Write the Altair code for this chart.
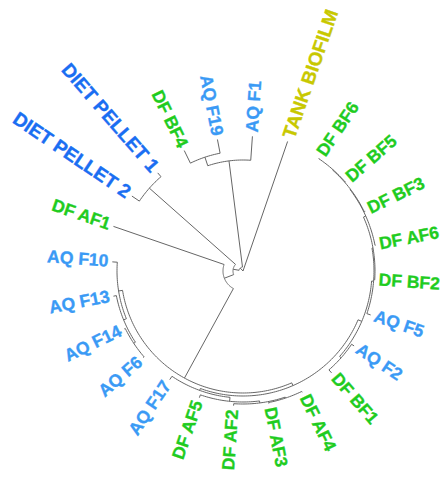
import math
import altair as alt
import pandas as pd

# ---- data: leaves in clockwise order, starting at the top-right ----
leaf_names = ["TANK BIOFILM", "DF BF6", "DF BF5", "DF BF3", "DF AF6", "DF BF2",
              "AQ F5", "AQ F2", "DF BF1", "DF AF4", "DF AF3", "DF AF2", "DF AF5",
              "AQ F17", "AQ F6", "AQ F14", "AQ F13", "AQ F10", "DF AF1",
              "DIET PELLET 2", "DIET PELLET 1", "DF BF4", "AQ F19", "AQ F1"]
leaf_groups = ["TANK", "DF", "DF", "DF", "DF", "DF",
               "AQ", "AQ", "DF", "DF", "DF", "DF", "DF",
               "AQ", "AQ", "AQ", "AQ", "AQ", "DF",
               "DIET", "DIET", "DF", "AQ", "AQ"]
leaf_tip_r = [137, 136, 136, 136, 135, 132,
              135, 134, 135, 135, 135, 135, 134,
              131, 132, 132, 132, 131, 137,
              134, 130, 134, 134, 135]

# internal nodes (children before parents): name, children, radius
node_names = ["A1", "A", "B",
              "G1c", "G1b", "G1",
              "G4c", "G4b", "G4", "W",
              "G6", "G7e", "G7d", "G7c", "G7b", "G7", "G5",
              "Z", "C", "N3", "N2", "N1", "root"]
node_children = [["DF BF4", "AQ F19"], ["A1", "AQ F1"], ["DIET PELLET 2", "DIET PELLET 1"],
                 ["AQ F6", "AQ F14"], ["G1c", "AQ F13"], ["G1b", "AQ F10"],
                 ["DF AF4", "DF AF3"], ["G4c", "DF AF2"], ["G4b", "DF AF5"], ["G4", "AQ F17"],
                 ["AQ F2", "DF BF1"], ["DF BF6", "DF BF5"], ["G7e", "DF BF3"], ["G7d", "DF AF6"],
                 ["G7c", "DF BF2"], ["G7b", "AQ F5"], ["G7", "G6"],
                 ["G5", "W"], ["Z", "G1"], ["C", "DF AF1"], ["N3", "B"], ["N2", "A"],
                 ["TANK BIOFILM", "N1"]]
node_radius = [120, 111, 125,
               131, 129, 126,
               134, 133, 131, 127,
               131, 135.5, 135, 134.5, 132, 131, 129,
               125, 122, 20, 10, 4, 0]

group_domain = ["DF", "AQ", "DIET", "TANK"]
group_colors = ["#1fcc1f", "#3a9af5", "#1a6ef2", "#c8c800"]
group_font_size = [17.5, 17.5, 19, 19]

first_leaf_angle = 19
leaf_step = 360 / len(leaf_names)

# ---- layout ----
ang = {}
rad = {}
for i, n in enumerate(leaf_names):
    ang[n] = first_leaf_angle + leaf_step * i
    rad[n] = leaf_tip_r[i]
for n, ch, r in zip(node_names, node_children, node_radius):
    ang[n] = (ang[ch[0]] + ang[ch[1]]) / 2
    rad[n] = r


def pt(r, a):
    t = math.radians(a)
    return r * math.sin(t), r * math.cos(t)


rows = []
sid = 0
for n, ch, r in zip(node_names, node_children, node_radius):
    a0, a1 = sorted([ang[ch[0]], ang[ch[1]]])
    steps = max(2, int(abs(a1 - a0)) + 1)
    for k in range(steps + 1):
        x, y = pt(r, a0 + (a1 - a0) * k / steps)
        rows.append({"sid": sid, "o": k, "x": x, "y": y})
    sid += 1
    for c in ch:
        for k, rr in enumerate([r, rad[c]]):
            x, y = pt(rr, ang[c])
            rows.append({"sid": sid, "o": k, "x": x, "y": y})
        sid += 1
lines = pd.DataFrame(rows)

fs_map = dict(zip(group_domain, group_font_size))
lab = []
for i, n in enumerate(leaf_names):
    a = ang[n] % 360
    x, y = pt(leaf_tip_r[i] + 4, a)
    right = a < 180
    rot = (a - 90) % 360 if right else (a + 90) % 360
    lab.append({"name": n, "group": leaf_groups[i], "x": x, "y": y,
                "rot": rot, "side": "R" if right else "L",
                "fs": fs_map[leaf_groups[i]]})
labels = pd.DataFrame(lab)

W, H = 432, 464
cx, cy = 235, 263
xs = alt.Scale(domain=[-cx, W - cx], nice=False, zero=False)
ys = alt.Scale(domain=[-(H - cy), cy], nice=False, zero=False)

base_lines = alt.Chart(lines).mark_line(color="#666666", strokeWidth=1).encode(
    x=alt.X("x:Q", scale=xs, axis=None),
    y=alt.Y("y:Q", scale=ys, axis=None),
    detail="sid:N",
    order="o:Q",
)

cscale = alt.Scale(domain=group_domain, range=group_colors)


def text_layer(side, align):
    return alt.Chart(labels).transform_filter(alt.datum.side == side).mark_text(
        align=align, baseline="middle", font="Liberation Sans", fontWeight="bold",
        strokeWidth=0.35
    ).encode(
        x=alt.X("x:Q", scale=xs, axis=None),
        y=alt.Y("y:Q", scale=ys, axis=None),
        text="name:N",
        angle=alt.Angle("rot:Q", scale=None),
        size=alt.Size("fs:Q", scale=None, legend=None),
        color=alt.Color("group:N", scale=cscale, legend=None),
        stroke=alt.Stroke("group:N", scale=cscale, legend=None),
    )


chart = alt.layer(base_lines, text_layer("R", "left"), text_layer("L", "right")).properties(
    width=W, height=H, padding=0, background="white",
    autosize=alt.AutoSizeParams(type="none")
).configure_view(stroke=None)

chart.save("out.html", embed_options={"renderer": "svg", "actions": False})
